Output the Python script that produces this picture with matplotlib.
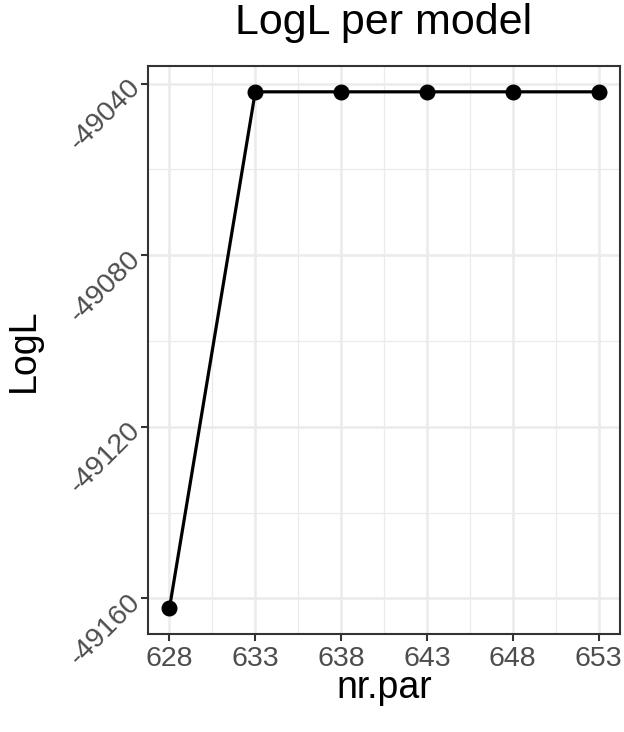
import matplotlib.pyplot as plt
import numpy as np

nr_par = [628, 633, 638, 643, 648, 653]
logl = [-49162.3, -49041.9, -49041.9, -49041.9, -49041.9, -49041.9]
xticks = [628, 633, 638, 643, 648, 653]
yticks = [-49160, -49120, -49080, -49040]

plt.rcParams['font.family'] = ['Liberation Sans', 'DejaVu Sans']

fig = plt.figure(figsize=(6.24, 7.32), dpi=100)
ax = fig.add_axes([148/624, 1 - 634/732, (620-148)/624, (634-66)/732])

ax.plot(nr_par, logl, '-o', color='black', lw=2.3, markersize=10.5, zorder=3)

xpad = (max(nr_par) - min(nr_par)) * 0.05
ypad = (max(logl) - min(logl)) * 0.05
ax.set_xlim(min(nr_par) - xpad, max(nr_par) + xpad)
ax.set_ylim(min(logl) - ypad, max(logl) + ypad)

ax.set_xticks(xticks)
ax.set_yticks(yticks)
ax.set_xticks(np.array(xticks[:-1]) + 2.5, minor=True)
ax.set_yticks(np.array(yticks[:-1]) + 20, minor=True)
ax.grid(which='major', color='#EBEBEB', lw=1.8, zorder=0)
ax.grid(which='minor', color='#EBEBEB', lw=0.9, zorder=0)
ax.tick_params(which='minor', length=0)
ax.tick_params(which='major', length=5, width=1.5, color='#333333',
               labelsize=20.5, labelcolor='#4D4D4D')
ax.set_yticklabels([str(v) for v in yticks], rotation=45, ha='right',
                   va='center', rotation_mode='anchor')
for s in ax.spines.values():
    s.set_color('#333333')
    s.set_linewidth(1.5)

ax.set_xlabel('nr.par', fontsize=27, labelpad=-1)
ax.set_ylabel('LogL', fontsize=27, labelpad=16)
ax.set_title('LogL per model', fontsize=31, pad=23)

plt.savefig('out.png', dpi=100)
